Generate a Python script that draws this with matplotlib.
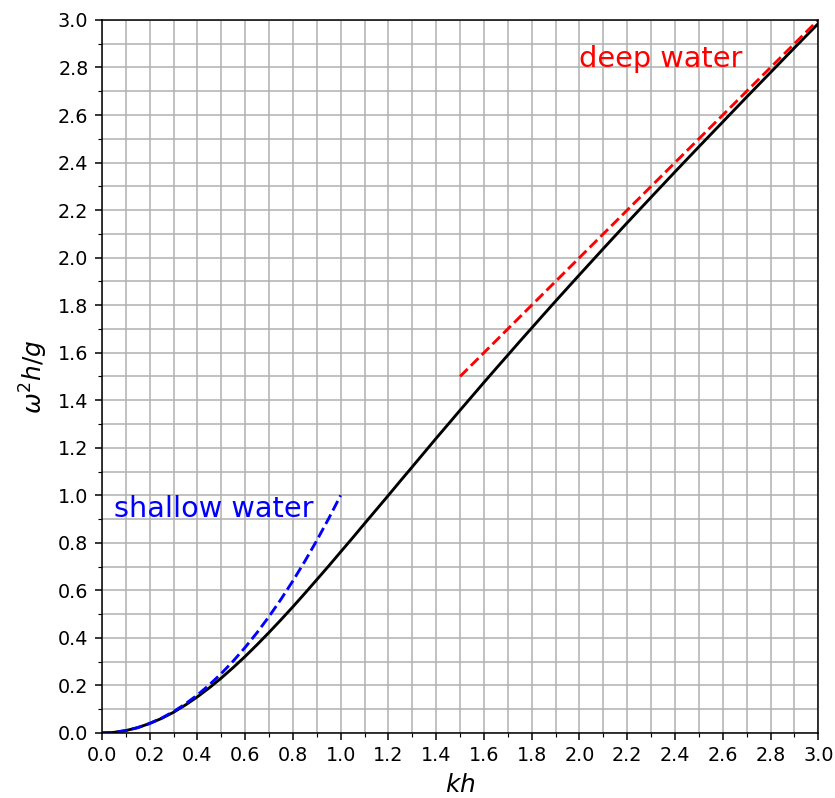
import matplotlib
matplotlib.use("Agg")
import matplotlib.pyplot as plt
from matplotlib.ticker import MultipleLocator

kh = [0.0, 0.05, 0.1, 0.15, 0.2, 0.25, 0.3, 0.35, 0.4, 0.45, 0.5, 0.55, 0.6, 0.65,
      0.7, 0.75, 0.8, 0.85, 0.9, 0.95, 1.0, 1.05, 1.1, 1.15, 1.2, 1.25, 1.3, 1.35,
      1.4, 1.45, 1.5, 1.55, 1.6, 1.65, 1.7, 1.75, 1.8, 1.85, 1.9, 1.95, 2.0, 2.1,
      2.2, 2.3, 2.4, 2.5, 2.6, 2.7, 2.8, 2.9, 3.0]
omega2 = [0.0, 0.0025, 0.010, 0.0223, 0.040, 0.0612, 0.087, 0.1177, 0.152, 0.1899,
          0.231, 0.2753, 0.322, 0.3716, 0.423, 0.4763, 0.531, 0.5874, 0.645, 0.7028,
          0.762, 0.8209, 0.881, 0.9405, 1.000, 1.0604, 1.120, 1.1800, 1.240, 1.2988,
          1.358, 1.4164, 1.475, 1.5327, 1.590, 1.6475, 1.704, 1.7607, 1.817, 1.8726,
          1.928, 2.0381, 2.147, 2.2542, 2.361, 2.4665, 2.571, 2.6757, 2.779, 2.8826,
          2.985]
shallow_kh = [0.0, 0.05, 0.1, 0.15, 0.2, 0.25, 0.3, 0.35, 0.4, 0.45, 0.5, 0.55, 0.6,
              0.65, 0.7, 0.75, 0.8, 0.85, 0.9, 0.95, 1.0]
shallow_w = [0.0, 0.0025, 0.01, 0.0225, 0.04, 0.0625, 0.09, 0.1225, 0.16, 0.2025,
             0.25, 0.3025, 0.36, 0.4225, 0.49, 0.5625, 0.64, 0.7225, 0.81, 0.9025, 1.0]
deep_kh = [1.5, 3.0]
deep_w = [1.5, 3.0]

fig = plt.figure(figsize=(835 / 138, 798 / 138), dpi=138)
ax = fig.add_axes([0.122, 0.0815, 0.858, 0.8935])
ax.plot(kh, omega2, color='black', lw=1.5)
ax.plot(shallow_kh, shallow_w, color='blue', ls='--', lw=1.5)
ax.plot(deep_kh, deep_w, color='red', ls='--', lw=1.5)
ax.text(0.05, 0.91, 'shallow water', color='blue', fontsize=15)
ax.text(2.0, 2.8, 'deep water', color='red', fontsize=15)
ax.set_xlim(0, 3)
ax.set_ylim(0, 3)
ax.xaxis.set_major_locator(MultipleLocator(0.2))
ax.yaxis.set_major_locator(MultipleLocator(0.2))
ax.xaxis.set_minor_locator(MultipleLocator(0.1))
ax.yaxis.set_minor_locator(MultipleLocator(0.1))
ax.grid(which='both', color='#b0b0b0', lw=0.8)
ax.set_axisbelow(True)
ax.tick_params(labelsize=10)
ax.set_xlabel(r'$kh$', fontsize=13)
ax.set_ylabel(r'$\omega^2 h/g$', fontsize=13)
fig.savefig('out.png', dpi=138)
